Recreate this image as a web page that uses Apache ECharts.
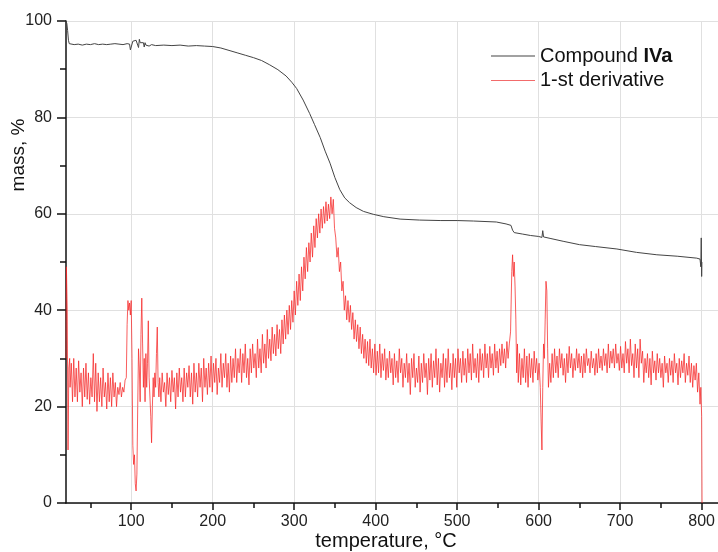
<!DOCTYPE html>
<html>
<head>
<meta charset="utf-8">
<script src="https://cdn.jsdelivr.net/npm/echarts@6/dist/echarts.min.js"></script>
<style>html,body{margin:0;padding:0;background:#fff}#c{width:718px;height:552px}</style>
</head>
<body>
<div id="c"></div>
<script>
const xTicks = [100, 200, 300, 400, 500, 600, 700, 800];
const xMinorTicks = [50, 150, 250, 350, 450, 550, 650, 750];
const seriesNames = ['Compound IVa', '1-st derivative'];
const massCurve = [
[20,100],[21,99.5],[22,98],[23,96],[24,95.3],[26,95.4],[30,95.1],[35,95.2],[40,95.0],[45,95.2],[50,95.1],[55,95.3],[60,95.1],[65,95.2],[70,95.1],[75,95.2],[80,95.3],[85,95.2],[90,95.1],[95,95.3],[98,95.2],[99,94],[100,93.8],[101,94.2],[102,95.8],[106,96],[108,95],[109,94.5],[110,96.2],[111,95.5],[113,95.8],[115,95.5],[116,94.6],[117,95.5],[118,95],[120,95.2],[122,94.8],[125,95.1],[130,94.9],[140,95],[150,94.9],[160,95.0],[170,94.8],[180,94.9],[190,94.8],[200,94.7],[210,94.4],[220,93.9],[230,93.4],[240,92.9],[250,92.4],[260,91.8],[270,90.9],[280,89.9],[290,88.6],[297,87.3],[303,86],[311,83.6],[319,80.8],[325,78.5],[332,75.8],[338,73],[344,70.5],[350,67.5],[356,65],[362,63.3],[368,62.3],[376,61.3],[385,60.5],[397,59.9],[410,59.4],[430,58.9],[454,58.7],[480,58.6],[500,58.6],[520,58.5],[548,58.3],[560,57.9],[566,57.6],[568,56.6],[570,56.1],[580,55.8],[590,55.5],[600,55.3],[604,55.1],[605,56.5],[606,55.2],[614,54.9],[630,54.3],[650,53.6],[670,53.2],[696,52.7],[720,52.0],[745,51.5],[770,51.2],[794,50.8],[798,50.6],[799,49],[799.5,55],[800,47],[800.3,50]
];
const derivCurve = [
[20,30],[20.5,49],[21.5,40],[22.5,11],[23.5,28],[24.5,30],
[25,24],[26.5,29],[28,21],[29.5,30],[31,22],[32.5,28],[34,21],[35.5,29.5],[37,23],[38.5,27],[40,20],[41.5,28],[43,22],[44.5,29],[46,21.5],[47.5,27],[49,20.5],[50.5,26],[52,22],[53.5,31],[55,21],[56.5,29],[58,19],[59.5,27],[61,21],[62.5,26],[64,20],[65.5,28],[67,22],[68.5,25],[70,19.5],[71.5,27],[73,21],[74.5,26],[76,20],[77.5,27],[79,22],[80.5,25],[82,20],[83.5,24],[85,22.5],[86.5,25],[88,22],[89.5,24],[91,23],[92.5,25.5],
[94,26],[95,37],[96,42],[97,40],[98,41.5],[99,39],[100,42],[101,30],[102,12],[103,8],[104,10],[105,4],[106,2.5],[107,6],[108,20],[109,32],[110,28],[111,21],[112,35],[113,42.5],[114,33],[115,24],[116,30],[117,21],[118,31],[119,24],[120,29],[121,37.8],[122,26],[123,22],[124,18],[125,12.5],[126,20],[127,26],[128,22],[129,27],[130,24],[131,31],[132,36.5],[133,25],[134,22],[135,26],
[136.5,21],[138,27],[139.5,23],[141,25],[142.5,20],[144,27],[145.5,22.5],[147,26],[148.5,21],[150,27.5],[151.5,23],[153,26],[154.5,19.5],[156,27],[157.5,22],[159,28],[160.5,23],[162,26],[163.5,21],[165,28],[166.5,22],[168,27],[169.5,24],[171,28.5],[172.5,22],[174,27],[175.5,20.5],[177,29],[178.5,23],[180,27],[181.5,22],[183,29],[184.5,24],[186,28],[187.5,21],[189,30],[190.5,24],[192,28],[193.5,22.5],[195,29],[196.5,24],[198,30.5],[199.5,23],[201,29],[202.5,25],[204,30],[205.5,22.5],[207,28],[208.5,25],[210,31],[211.5,24],[213,29],[214.5,26],[216,31],[217.5,24],[219,29],[220.5,23],[222,30.5],[223.5,25],[225,30],[226.5,26],[228,32],[229.5,25],[231,30],[232.5,27],[234,32],[235.5,25],[237,31],[238.5,27],[240,33],[241.5,26],[243,30],[244.5,24.5],[246,32],[247.5,27],[249,33],[250.5,28],[252,31],[253.5,26],[255,34],[256.5,28],[258,32],[259.5,27],[261,35],[262.5,29],[264,33],[265.5,28],[267,36],[268.5,30],[270,34],[271.5,29.5],[273,36.5],[274.5,31],[276,35],[277.5,30.5],[279,37],[280.5,32],[282,36],[283.5,31],[285,38],[286.5,33],[288,39],[289.5,34],[291,40],[292.5,35],[294,41],[295.5,36],[297,42],[298.5,37.5],[300,44],[301.5,39],[303,46],[304.5,41],[306,47.5],[307.5,42],[309,49],[310.5,44],[312,51],[313.5,46.5],[315,53],[316.5,48],[318,54],[319.5,50],[321,56],[322.5,51],[324,57.5],[325.5,53],[327,59],[328.5,55],[330,60],[331.5,56],[333,61],[334.5,57],[336,61.5],[337.5,58],[339,62.5],[340.5,58.5],[342,62],[343.5,59],[345,63.5],[346.5,60],[348,63],[349.5,57],[351,55],[352.5,51],[354,53],[355.5,48],[357,50],[358.5,44],[360,46],[361.5,40],[363,43],[364.5,38],[366,42],[367.5,37.5],[369,41],[370.5,36],[372,39.5],[373.5,34],[375,38],[376.5,33.5],[378,37],[379.5,32],[381,36.5],[382.5,31],[384,35],[385.5,30],[387,34],[388.5,29],[390,33.5],[391.5,28.5],[393,34],[394.5,28],[396,32],[397.5,27],[399,33],[400.5,26.5],[402,31.5],[403.5,27],[405,33],[406.5,26],[408,31],[409.5,27.5],[411,32],[412.5,25.5],[414,30],[415.5,26],[417,31.5],[418.5,27],[420,30],[421.5,24.5],[423,31],[424.5,26],[426,29.5],[427.5,25],[429,32],[430.5,27],[432,30],[433.5,24],[435,29],[436.5,26],[438,31],[439.5,25],[441,29],[442.5,22.5],[444,30],[445.5,26],[447,31],[448.5,24],[450,28],[451.5,25],[453,30.5],[454.5,23],[456,29],[457.5,25],[459,31],[460.5,26],[462,29],[463.5,22.5],[465,30],[466.5,25.5],[468,31],[469.5,24],[471,29.5],[472.5,26],[474,32],[475.5,24.5],[477,30],[478.5,23],[480,29],[481.5,26],[483,31],[484.5,24],[486,30],[487.5,25],[489,32],[490.5,26],[492,29],[493.5,23.5],[495,31],[496.5,26],[498,30],[499.5,24],[501,32],[502.5,27],[504,30],[505.5,25],[507,31.5],[508.5,26.5],[510,30],[511.5,25],[513,32],[514.5,27],[516,31],[517.5,25.5],[519,33],[520.5,27],[522,30],[523.5,26],[525,31],[526.5,25],[528,32],[529.5,27.5],[531,31],[532.5,26],[534,33],[535.5,28],[537,31],[538.5,26],[540,32.5],[541.5,28],[543,31],[544.5,26.5],[546,33],[547.5,28],[549,31.5],[550.5,27],[552,32],[553.5,28.5],[555,33],[556.5,29],[558,32],[559.5,28],[561,33.5],[562.5,30],[564,33],[565.5,35.5],[567,48],[568,51.5],[569,47],[570,50],[571,45],[572,38],[573,27],[574,33],[575,25],[576.5,31],[578,24.5],[579.5,30],[581,26],[582.5,32],[584,25],[585.5,30.5],[587,24],[588.5,31],[590,26],[591.5,30],[593,25],[594.5,31.5],[596,27],[597.5,30],[599,25.5],[600.5,29],[602,24],[603,17],[604,11],[605,24],[606,33],[607,30],[608,38],[609,46],[610,44],[611,32],[612,24],[613.5,29],[615,25],[616.5,31],[618,26],[619.5,32],[621,27],[622.5,30.5],[624,26],[625.5,32],[627,28],[628.5,31],[630,26.5],[631.5,30],[633,25],[634.5,31],[636,27],[637.5,32.5],[639,28],[640.5,31],[642,26],[643.5,30],[645,27.5],[646.5,32],[648,28],[649.5,31],[651,27],[652.5,30.5],[654,26],[655.5,31],[657,27],[658.5,32],[660,28.5],[661.5,30],[663,27],[664.5,31.5],[666,28],[667.5,30],[669,26.5],[670.5,31],[672,27],[673.5,32],[675,28],[676.5,30.5],[678,27.5],[679.5,32],[681,28.5],[682.5,31],[684,27],[685.5,33],[687,28],[688.5,31.5],[690,29],[691.5,32],[693,28],[694.5,33],[696,29],[697.5,31],[699,27.5],[700.5,32.5],[702,28],[703.5,31],[705,27],[706.5,33.5],[708,29],[709.5,32],[711,27],[712.5,34],[714,28.5],[715.5,31],[717,26],[718.5,33],[720,28],[721.5,32],[723,26],[724.5,34],[726,29],[727.5,31.5],[729,25],[730.5,30],[732,27],[733.5,31],[735,26],[736.5,30],[738,24.5],[739.5,31.5],[741,27],[742.5,29.5],[744,25.5],[745.5,31],[747,27],[748.5,30],[750,26],[751.5,29],[753,24],[754.5,30.5],[756,27],[757.5,29],[759,25],[760.5,30],[762,26.5],[763.5,29.5],[765,25],[766.5,31],[768,27],[769.5,29],[771,24.5],[772.5,30],[774,26],[775.5,29.5],[777,27],[778.5,31],[780,25],[781.5,29],[783,26.5],[784.5,30.5],[786,25],[787.5,29],[789,24],[790.5,28.5],[792,25.5],[793.5,29],[795,23],[796.5,27],[798,20.5],[799,24],[800,18],[800.5,0]
];

const FONT = 'Liberation Sans, Arial, sans-serif';
const chart = echarts.init(document.getElementById('c'), null, {renderer: 'canvas'});
chart.setOption({
  animation: false,
  backgroundColor: '#fff',
  grid: {left: 66, right: 0, top: 21, bottom: 49, containLabel: false},
  legend: {
    orient: 'vertical', left: 486, top: 41, itemGap: 4.6,
    itemWidth: 44, itemHeight: 1, icon: 'rect',
    data: [
      {name: seriesNames[0], itemStyle: {color: '#444'}},
      {name: seriesNames[1], itemStyle: {color: '#f26b6b'}}
    ],
    formatter: function (n) {
      return n === seriesNames[0] ? '{n|Compound }{b|IVa}' : '{n|' + n + '}';
    },
    textStyle: {
      fontFamily: FONT, fontSize: 20, color: '#111', padding: [0, 0, 0, 0],
      rich: {
        n: {fontFamily: FONT, fontSize: 20, lineHeight: 20, color: '#111'},
        b: {fontFamily: FONT, fontSize: 20, lineHeight: 20, color: '#111', fontWeight: 'bold'}
      }
    }
  },
  xAxis: [{
    type: 'value', min: 20, max: 820,
    axisLine: {show: true, onZero: false, lineStyle: {color: '#111', width: 1.5}},
    axisTick: {show: true, customValues: xTicks, length: 7, lineStyle: {color: '#111', width: 1.5}},
    axisLabel: {customValues: xTicks, fontFamily: FONT, fontSize: 16, color: '#222', margin: 11},
    splitLine: {show: true, lineStyle: {color: '#e0e0e0', width: 1}}
  }, {
    type: 'value', min: 20, max: 820, position: 'bottom',
    axisLine: {show: false},
    axisTick: {show: true, customValues: xMinorTicks, length: 5, lineStyle: {color: '#111', width: 1.5}},
    axisLabel: {show: false},
    splitLine: {show: false}
  }],
  yAxis: {
    type: 'value', min: 0, max: 100, interval: 20,
    axisLine: {show: true, onZero: false, lineStyle: {color: '#111', width: 1.5}},
    axisTick: {show: true, length: 9, lineStyle: {color: '#111', width: 1.5}},
    minorTick: {show: true, splitNumber: 2, length: 6, lineStyle: {color: '#111', width: 1.5}},
    axisLabel: {fontFamily: FONT, fontSize: 16, color: '#222', margin: 14},
    splitLine: {show: true, lineStyle: {color: '#e0e0e0', width: 1}}
  },
  graphic: [
    {type: 'text', x: 386, y: 541, style: {text: 'temperature, °C', font: '20px ' + FONT, fill: '#111', align: 'center', verticalAlign: 'middle'}},
    {type: 'text', x: 19, y: 155, rotation: Math.PI / 2, style: {text: 'mass, %', font: '19px ' + FONT, fill: '#111', align: 'center', verticalAlign: 'middle'}}
  ],
  series: [{
    name: seriesNames[0], type: 'line', data: massCurve, showSymbol: false, symbol: 'none',
    lineStyle: {color: '#444', width: 1}, itemStyle: {color: '#444'}, z: 3
  }, {
    name: seriesNames[1], type: 'line', data: derivCurve, showSymbol: false, symbol: 'none',
    lineStyle: {color: 'rgba(245,40,40,0.75)', width: 1}, itemStyle: {color: '#f26b6b'}, z: 2
  }]
});
</script>
</body>
</html>
